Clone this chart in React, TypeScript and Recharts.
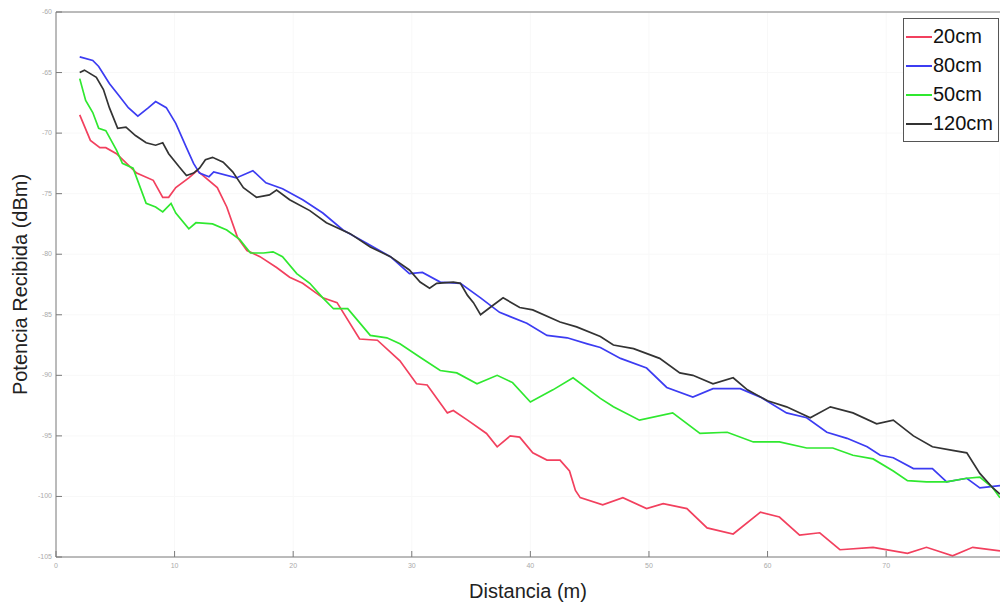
import { LineChart, Line, XAxis, YAxis, CartesianGrid, ReferenceLine } from 'recharts';

// distancia (m), potencia (dBm)
const s20cm: [number, number][] = [
  [2.0, -68.5], [2.9, -70.6], [3.7, -71.2], [4.2, -71.2], [5.1, -71.7], [6.8, -73.3], [8.2, -73.9],
  [9.0, -75.3], [9.5, -75.3], [10.1, -74.5], [11.2, -73.7], [11.9, -73.1], [13.6, -74.5], [14.4, -76.1],
  [15.3, -78.6], [16.1, -79.7], [17.2, -80.2], [18.6, -81.1], [19.7, -81.9], [20.8, -82.4], [22.5, -83.6],
  [23.7, -84.0], [25.6, -87.0], [27.1, -87.1], [29.0, -88.8], [30.4, -90.7], [31.3, -90.8], [33.0, -93.1],
  [33.5, -92.9], [34.7, -93.7], [36.3, -94.8], [37.2, -95.9], [38.3, -95.0], [39.1, -95.1], [40.2, -96.4],
  [41.4, -97.0], [42.5, -97.0], [43.3, -97.9], [43.8, -99.5], [44.2, -100.1], [46.1, -100.7], [47.8, -100.1],
  [49.8, -101.0], [51.2, -100.6], [53.2, -101.0], [54.9, -102.6], [57.1, -103.1], [59.4, -101.3], [61.0, -101.7],
  [62.7, -103.2], [64.4, -103.0], [66.1, -104.4], [68.9, -104.2], [71.8, -104.7], [73.4, -104.2], [75.6, -104.9],
  [77.3, -104.2], [79.6, -104.5],
];

const s80cm: [number, number][] = [
  [2.0, -63.7], [3.1, -64.0], [3.6, -64.5], [4.5, -65.9], [5.3, -66.9], [6.1, -67.9], [6.9, -68.6],
  [7.8, -67.9], [8.4, -67.4], [9.3, -67.9], [10.1, -69.2], [11.0, -71.2], [11.6, -72.5], [12.1, -73.3],
  [12.9, -73.6], [13.3, -73.2], [15.2, -73.7], [16.6, -73.1], [17.7, -74.1], [19.1, -74.6], [20.8, -75.5],
  [22.5, -76.6], [24.2, -78.0], [26.2, -79.1], [28.2, -80.2], [29.8, -81.6], [30.9, -81.5], [32.4, -82.3],
  [34.1, -82.4], [35.8, -83.6], [37.4, -84.8], [39.7, -85.7], [41.4, -86.7], [43.1, -86.9], [44.8, -87.4],
  [45.9, -87.7], [47.6, -88.6], [49.8, -89.4], [51.5, -91.0], [53.7, -91.8], [55.4, -91.1], [57.7, -91.1],
  [59.4, -91.8], [61.6, -93.1], [63.3, -93.5], [65.0, -94.7], [66.7, -95.2], [68.4, -95.9], [69.5, -96.6],
  [70.6, -96.8], [72.3, -97.7], [73.9, -97.7], [75.1, -98.8], [76.8, -98.5], [77.9, -99.3], [79.6, -99.1],
];

const s50cm: [number, number][] = [
  [2.0, -65.5], [2.5, -67.3], [3.1, -68.3], [3.6, -69.6], [4.2, -69.8], [5.1, -71.4], [5.6, -72.5],
  [6.5, -72.9], [7.6, -75.8], [8.4, -76.1], [9.0, -76.5], [9.7, -75.8], [10.1, -76.6], [11.2, -77.9],
  [11.8, -77.4], [13.2, -77.5], [14.4, -78.0], [15.5, -78.8], [16.4, -79.9], [17.5, -79.9], [18.3, -79.8],
  [19.1, -80.2], [20.3, -81.6], [21.4, -82.4], [22.5, -83.6], [23.4, -84.5], [24.6, -84.5], [26.5, -86.7],
  [27.9, -86.9], [29.0, -87.4], [30.7, -88.5], [32.4, -89.6], [33.8, -89.8], [35.5, -90.7], [37.2, -90.0],
  [38.5, -90.6], [40.0, -92.2], [41.9, -91.2], [43.6, -90.2], [45.9, -91.9], [47.0, -92.6], [49.2, -93.7],
  [52.0, -93.1], [54.3, -94.8], [56.6, -94.7], [58.8, -95.5], [61.0, -95.5], [63.3, -96.0], [65.5, -96.0],
  [67.2, -96.6], [68.9, -96.9], [70.6, -97.9], [71.8, -98.7], [73.4, -98.8], [75.1, -98.8], [76.8, -98.5],
  [77.9, -98.4], [79.0, -99.3], [79.6, -100.1],
];

const s120cm: [number, number][] = [
  [2.0, -65.0], [2.4, -64.8], [3.4, -65.4], [4.0, -66.4], [4.5, -67.9], [5.2, -69.6], [5.9, -69.5],
  [6.7, -70.2], [7.6, -70.8], [8.4, -71.0], [9.0, -70.8], [9.5, -71.7], [10.4, -72.8], [11.0, -73.5],
  [11.6, -73.3], [12.1, -72.9], [12.6, -72.2], [13.2, -72.0], [14.1, -72.4], [14.9, -73.2], [15.8, -74.5],
  [16.9, -75.3], [18.0, -75.1], [18.6, -74.7], [19.7, -75.5], [21.4, -76.4], [22.8, -77.4], [24.8, -78.3],
  [26.5, -79.4], [28.2, -80.2], [29.8, -81.3], [30.7, -82.3], [31.5, -82.8], [32.1, -82.4], [33.5, -82.3],
  [34.1, -82.4], [34.7, -83.4], [35.2, -84.0], [35.8, -85.0], [36.6, -84.4], [37.7, -83.6], [39.1, -84.4],
  [40.2, -84.6], [42.5, -85.6], [43.9, -86.0], [45.9, -86.8], [47.0, -87.5], [48.7, -87.8], [50.9, -88.6],
  [52.6, -89.8], [53.7, -90.0], [55.4, -90.7], [57.1, -90.2], [58.3, -91.2], [60.0, -92.1], [61.6, -92.6],
  [63.6, -93.5], [65.3, -92.6], [67.2, -93.1], [69.2, -94.0], [70.6, -93.7], [72.3, -95.0], [73.9, -95.9],
  [75.6, -96.2], [76.8, -96.4], [77.9, -98.1], [79.0, -99.3], [79.6, -99.8],
];

const xTicks = [0, 10, 20, 30, 40, 50, 60, 70];
const yTicks = [-105, -100, -95, -90, -85, -80, -75, -70, -65, -60];

const series = [
  { name: '20cm', data: s20cm, color: '#f2405e' },
  { name: '80cm', data: s80cm, color: '#3c3cf2' },
  { name: '50cm', data: s50cm, color: '#2fe82f' },
  { name: '120cm', data: s120cm, color: '#333333' },
];

const FONT = '"Liberation Sans", Arial, sans-serif';
const AXIS = '#7a7a7a';

const toRows = (pts: [number, number][]) => pts.map(([d, p]) => ({ d, p }));

// MATLAB style ticks: mark points inward, label outside
const XTick = (props: any) => {
  const { x, y, payload } = props;
  return (
    <g>
      <line x1={x} y1={y} x2={x} y2={y - 6} stroke={AXIS} />
      <text x={x} y={y + 11} textAnchor="middle" fontSize={7} fill="#aaa" fontFamily={FONT}>
        {payload.value}
      </text>
    </g>
  );
};

const YTick = (props: any) => {
  const { x, y, payload } = props;
  return (
    <g>
      <line x1={x} y1={y} x2={x + 6} y2={y} stroke={AXIS} />
      <text x={x - 4} y={y + 2} textAnchor="end" fontSize={7} fill="#aaa" fontFamily={FONT}>
        {payload.value}
      </text>
    </g>
  );
};

const LegendBox = () => (
  <div
    style={{
      position: 'absolute',
      left: 903,
      top: 18,
      border: '1px solid #555',
      background: '#fff',
      width: 92,
      padding: '3px 0 3px 2px',
      fontFamily: FONT,
      fontSize: 20,
      color: '#111',
    }}
  >
    {series.map((s) => (
      <div key={s.name} style={{ display: 'flex', alignItems: 'center', height: 29 }}>
        <div style={{ width: 26, height: 2, background: s.color, marginRight: 1 }} />
        <span>{s.name}</span>
      </div>
    ))}
  </div>
);

export default function App() {
  return (
    <div style={{ position: 'fixed', left: 0, top: 0, width: 1000, height: 605, background: '#fff' }}>
      <LineChart width={1000} height={605} margin={{ top: 12, right: 0, bottom: 0, left: 0 }}>
        <CartesianGrid stroke="#f8f8f8" vertical horizontal />
        <XAxis
          type="number"
          dataKey="d"
          domain={[0, 79.6]}
          allowDataOverflow
          ticks={xTicks}
          tick={<XTick />}
          tickSize={0}
          tickMargin={0}
          height={48}
          stroke={AXIS}
          label={{ value: 'Distancia (m)', position: 'insideBottom', offset: 7, fontSize: 20, fill: '#222', fontFamily: FONT }}
        />
        <YAxis
          type="number"
          dataKey="p"
          domain={[-105, -60]}
          ticks={yTicks}
          tick={<YTick />}
          tickSize={0}
          tickMargin={0}
          width={56}
          stroke={AXIS}
          label={{
            value: 'Potencia Recibida (dBm)',
            angle: -90,
            position: 'insideLeft',
            offset: 20,
            style: { textAnchor: 'middle' },
            fontSize: 20,
            fill: '#222',
            fontFamily: FONT,
          }}
        />
        <ReferenceLine y={-60} stroke={AXIS} />
        {series.map((s) => (
          <Line
            key={s.name}
            name={s.name}
            data={toRows(s.data)}
            dataKey="p"
            type="linear"
            stroke={s.color}
            strokeWidth={1.7}
            dot={false}
            isAnimationActive={false}
          />
        ))}
      </LineChart>
      <LegendBox />
    </div>
  );
}
